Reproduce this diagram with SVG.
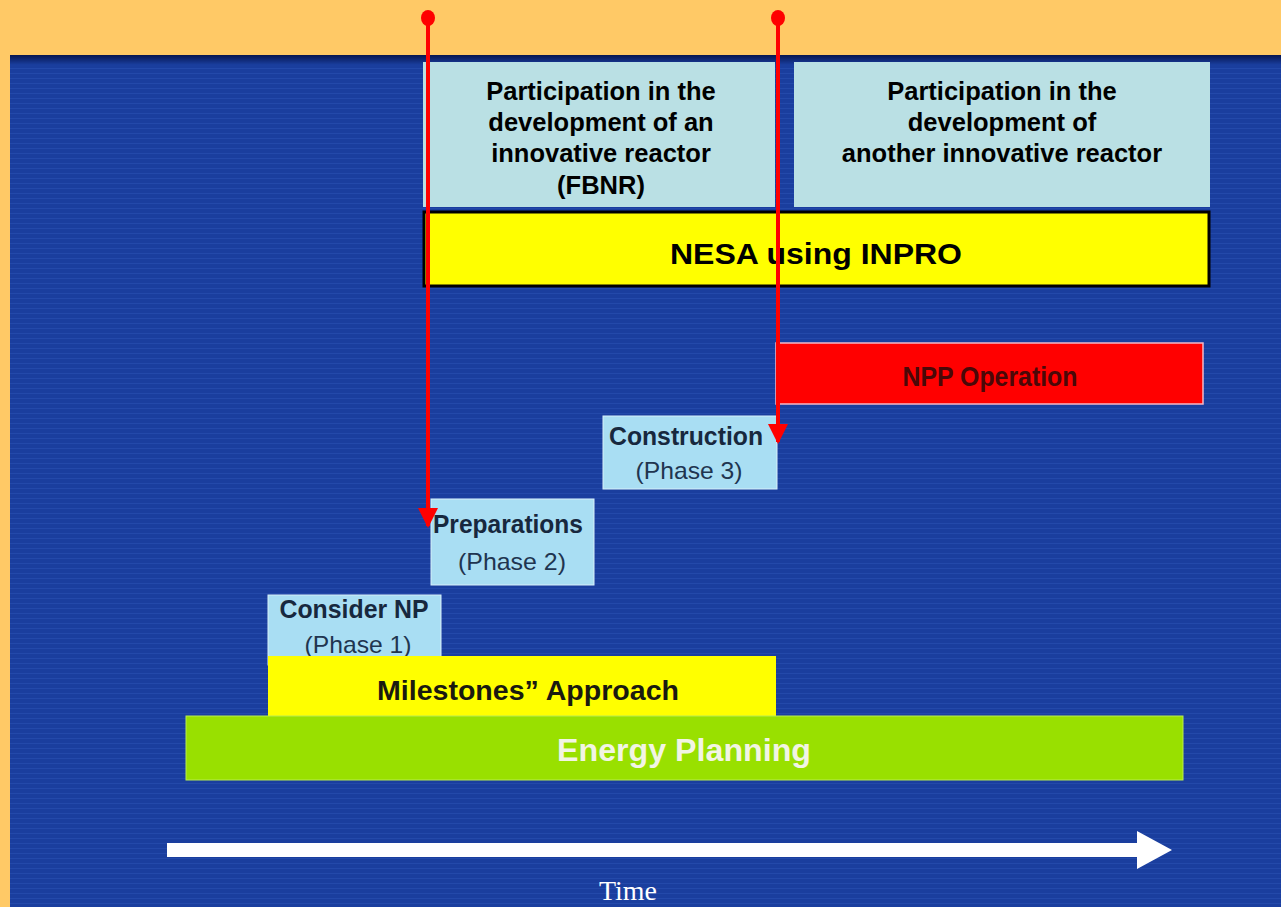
<svg xmlns="http://www.w3.org/2000/svg" width="1281" height="907" viewBox="0 0 1281 907">
<style>
.b{font-family:"Liberation Sans",Arial,sans-serif;font-weight:bold;text-anchor:middle}
.r{font-family:"Liberation Sans",Arial,sans-serif;text-anchor:middle}
.cyan{fill:#BAE0E4}
.phase{fill:#A9DEF3;stroke:#D8F0FA;stroke-width:1}
.ph1{fill:#17283E;font-size:26px}
.ph2{fill:#1F3550;font-size:24px}
.conn{stroke:#FF0000;stroke-width:4;fill:none}
.dot{fill:#FF0000}
</style>
<defs>
<linearGradient id="top" x1="0" y1="0" x2="0" y2="1">
<stop offset="0" stop-color="#061550"/>
<stop offset="1" stop-color="#1A3FA0"/>
</linearGradient>
<pattern id="stripes" width="8" height="5" patternUnits="userSpaceOnUse">
<rect width="8" height="5" fill="#1A3E9E"/>
<rect y="3" width="8" height="1" fill="#2349AA"/>
</pattern>
<marker id="ah" markerWidth="5" markerHeight="5" refX="4.5" refY="2.5" orient="auto" markerUnits="strokeWidth">
<path d="M0,0 L5,2.5 L0,5 Z" fill="#FF0000"/>
</marker>
</defs>
<rect width="1281" height="907" fill="#FFC966"/>
<rect x="10" y="55" width="1271" height="852" fill="url(#stripes)"/>
<rect x="10" y="55" width="1271" height="10" fill="url(#top)"/>

<g id="box-fbnr">
<rect class="cyan" x="423" y="62" width="352" height="145"/>
<text class="b" font-size="25.5" fill="#000"><tspan x="601" y="100">Participation in the</tspan><tspan x="601" y="131">development of an</tspan><tspan x="601" y="162">innovative reactor</tspan><tspan x="601" y="194">(FBNR)</tspan></text>
</g>
<g id="box-another">
<rect class="cyan" x="794" y="62" width="416" height="145"/>
<text class="b" font-size="25.5" fill="#000"><tspan x="1002" y="100">Participation in the</tspan><tspan x="1002" y="131">development of</tspan><tspan x="1002" y="162">another innovative reactor</tspan></text>
</g>
<g id="nesa">
<rect x="424" y="212" width="785" height="74" fill="#FFFF00" stroke="#000" stroke-width="3"/>
<text class="b" x="816" y="264" font-size="30" textLength="292" lengthAdjust="spacingAndGlyphs" fill="#000">NESA using INPRO</text>
</g>
<g id="npp-operation">
<rect x="776" y="343" width="427" height="61" fill="#FF0000" stroke="#F4B8C8" stroke-width="1.5"/>
<text class="b" x="990" y="386" font-size="27" textLength="175" lengthAdjust="spacingAndGlyphs" fill="#4A0808">NPP Operation</text>
</g>
<g id="construction">
<rect class="phase" x="603" y="416" width="174" height="73"/>
<text class="b ph1" x="686" y="445" textLength="154" lengthAdjust="spacingAndGlyphs">Construction</text>
<text class="r ph2" x="689" y="479" textLength="107" lengthAdjust="spacingAndGlyphs">(Phase 3)</text>
</g>
<g id="preparations">
<rect class="phase" x="431" y="499" width="163" height="86"/>
<text class="b ph1" x="508" y="533" textLength="150" lengthAdjust="spacingAndGlyphs">Preparations</text>
<text class="r ph2" x="512" y="570" textLength="108" lengthAdjust="spacingAndGlyphs">(Phase 2)</text>
</g>
<g id="consider-np">
<rect class="phase" x="268" y="595" width="173" height="70"/>
<text class="b ph1" x="354" y="618" textLength="149" lengthAdjust="spacingAndGlyphs">Consider NP</text>
<text class="r ph2" x="358" y="653" textLength="107" lengthAdjust="spacingAndGlyphs">(Phase 1)</text>
</g>
<g id="milestones">
<rect x="268" y="656" width="508" height="60" fill="#FFFF00"/>
<text class="b" x="528" y="700" font-size="28" textLength="302" lengthAdjust="spacingAndGlyphs" fill="#1A1A10">Milestones” Approach</text>
</g>
<g id="energy-planning">
<rect x="186" y="716" width="997" height="64" fill="#99E000" stroke="#B8EC50" stroke-width="1"/>
<text class="b" x="684" y="761" font-size="31" textLength="254" lengthAdjust="spacingAndGlyphs" fill="#F2F4E4">Energy Planning</text>
</g>
<g id="time-axis">
<path d="M167,843 H1137 V831 L1172,850 L1137,869 V857 H167 Z" fill="#FFFFFF"/>
<text x="628" y="900" font-family="'Liberation Serif','Times New Roman',serif" font-size="27" text-anchor="middle" textLength="58" lengthAdjust="spacingAndGlyphs" fill="#FFFFFF">Time</text>
</g>
<g id="connectors">
<ellipse class="dot" cx="428" cy="18" rx="7" ry="8"/>
<line class="conn" x1="428" y1="18" x2="428" y2="526" marker-end="url(#ah)"/>
<ellipse class="dot" cx="778" cy="18" rx="7" ry="8"/>
<line class="conn" x1="778" y1="18" x2="778" y2="442" marker-end="url(#ah)"/>
</g>
</svg>
